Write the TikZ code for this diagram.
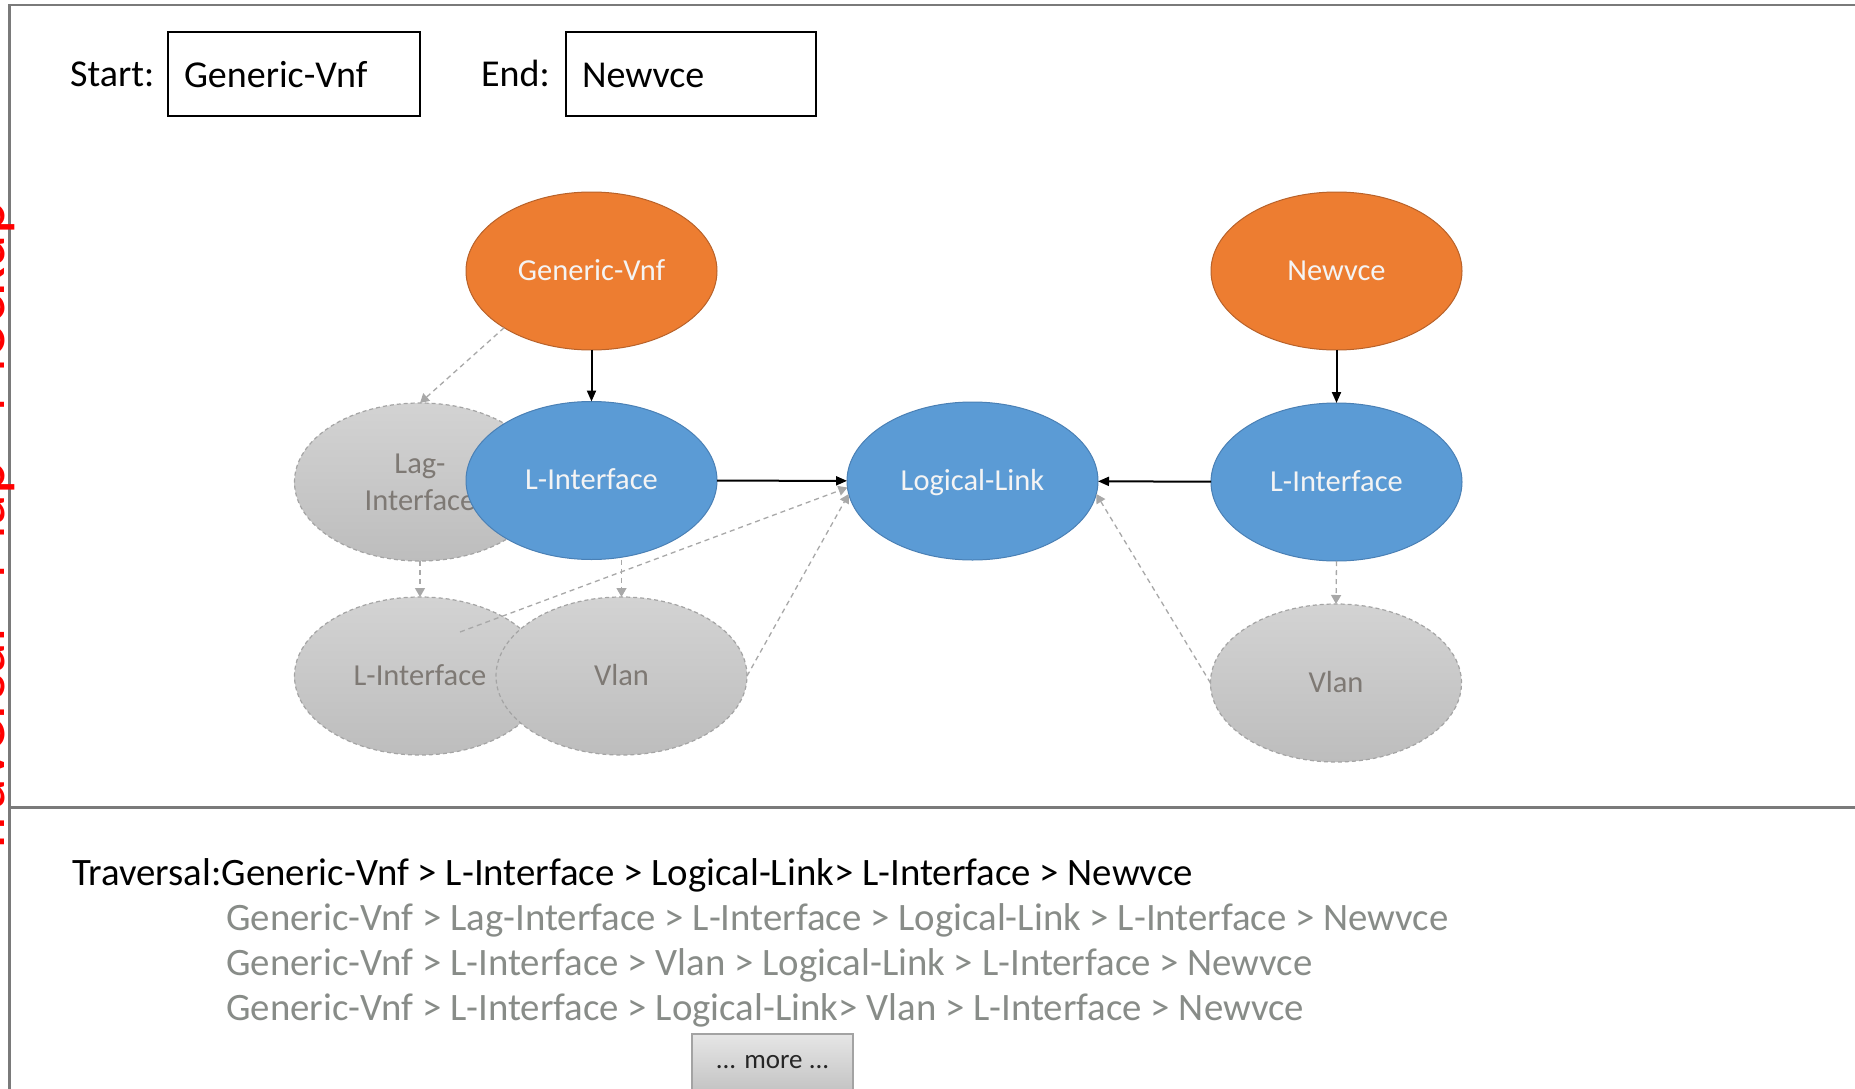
\documentclass[tikz,border=0pt]{standalone}
\usepackage{fontspec}
\setmainfont{Carlito}
\usetikzlibrary{shapes.geometric,arrows.meta,calc}

\definecolor{framegray}{HTML}{7A7A7A}
\definecolor{orangefill}{HTML}{ED7D31}
\definecolor{orangeedge}{HTML}{B8622A}
\definecolor{bluefill}{HTML}{5B9BD5}
\definecolor{blueedge}{HTML}{4A80B5}
\definecolor{graytop}{HTML}{D3D3D3}
\definecolor{graybot}{HTML}{BDBDBD}
\definecolor{grayedge}{HTML}{A4A4A4}
\definecolor{graytext}{HTML}{7E7974}
\definecolor{pathgray}{HTML}{888C88}
\definecolor{linkgray}{HTML}{A8A8A8}
\definecolor{nodewhite}{HTML}{F4F4F4}
\definecolor{btntop}{HTML}{E6E6E6}
\definecolor{btnbot}{HTML}{C4C4C4}
\definecolor{btnedge}{HTML}{A3A3A3}

\newcommand{\setpx}[2]{\fontsize{#1pt}{#2pt}\selectfont}

\begin{document}
\begin{tikzpicture}[x=1pt,y=-1pt,
  ellbase/.style={ellipse, minimum width=251pt, minimum height=158pt,
    inner sep=0pt, outer sep=0pt, align=center, font=\setpx{30.5}{37}},
  oneline/.style={text height=21pt, text depth=3pt},
  orangenode/.style={ellbase, oneline, fill=orangefill, draw=orangeedge,
    line width=1pt, text=nodewhite},
  bluenode/.style={ellbase, oneline, fill=bluefill, draw=blueedge,
    line width=1pt, text=nodewhite},
  graynode/.style={ellbase, top color=graytop, bottom color=graybot,
    draw=grayedge, line width=1.2pt, dash pattern=on 4pt off 3pt,
    text=graytext},
  solidarrow/.style={draw=black, line width=2pt,
    -{Triangle[length=11pt,width=9pt]}},
  dasharrow/.style={draw=linkgray, line width=1.3pt,
    dash pattern=on 5pt off 4pt,
    -{Triangle[length=9pt,width=10pt,fill=linkgray]}},
  framerule/.style={draw=framegray, line width=2.5pt},
  caption/.style={font=\setpx{38}{44}, inner sep=0pt, text=black},
  fieldbox/.style={draw=black, line width=1.5pt, minimum height=84pt,
    inner xsep=16pt, inner ysep=0pt, align=left, text height=27pt,
    text depth=0pt, font=\setpx{38}{44}},
  trav/.style={font=\setpx{38.8}{44}, inner sep=0pt, anchor=base west},
  morebutton/.style={minimum width=161pt, minimum height=56pt,
    top color=btntop, bottom color=btnbot, draw=btnedge, line width=1.2pt,
    font=\setpx{27}{30}, text=black!85}
]
\clip (0,0) rectangle (1855,1089);
\useasboundingbox (0,0) rectangle (1855,1089);
\fill[white] (0,0) rectangle (1855,1089);

% panel frame and divider
\draw[framerule] (9.5,1089) -- (9.5,5) -- (1855,5);
\draw[framerule] (9.5,807.5) -- (1855,807.5);

% vertical page title in the margin
\node[rotate=90, anchor=base west, inner sep=0pt, text=red,
  font=\setpx{64}{70}] (maptitle) at (5,858) {Traversal - Map - Mockup};

% start / end fields
\node[caption, anchor=base west] (startlbl) at (70,87) {Start:};
\node[fieldbox, minimum width=252pt, text width=220pt] (startbox) at (294,74) {Generic-Vnf};
\node[caption, anchor=base west] (endlbl) at (481,87) {End:};
\node[fieldbox, minimum width=250pt, text width=218pt] (endbox) at (691,74) {Newvce};

% graph nodes
\node[graynode] (lag) at (420,482) {Lag-\\Interface};
\node[orangenode] (gv) at (591.5,271) {Generic-Vnf};
\node[bluenode] (li1) at (591.5,480.5) {L-Interface};
\node[graynode, oneline] (lif) at (420,676) {L-Interface};
\node[graynode, oneline] (vl1) at (621.5,676) {Vlan};
\node[bluenode] (ll) at (972.5,481) {Logical-Link};
\node[orangenode] (nv) at (1336.5,271) {Newvce};
\node[bluenode] (li2) at (1336.5,482) {L-Interface};
\node[graynode, oneline] (vl2) at (1336,683) {Vlan};

% alternative (dashed) links
\coordinate (lifstart) at (460,632);
\draw[dasharrow] (gv.213) -- (lag.north);
\draw[dasharrow] (lag.south) -- (lif.north);
\draw[dasharrow] (vl1.north |- li1.south) -- (vl1.north);
\draw[dasharrow] (lifstart) -- (ll.183);
\draw[dasharrow] (vl1.east) -- (ll.186);
\draw[dasharrow] (vl2.west) -- (ll.354);
\draw[dasharrow] (li2.south) -- (vl2.north);

% main traversal
\draw[solidarrow] (gv) -- (li1);
\draw[solidarrow] (li1) -- (ll);
\draw[solidarrow] (nv) -- (li2);
\draw[solidarrow] (li2) -- (ll);

% traversal listing
\node[trav] (path0) at (72,885) {Traversal:Generic-Vnf > L-Interface > Logical-Link> L-Interface > Newvce};
\node[trav, text=pathgray] (path1) at (226,930) {Generic-Vnf > Lag-Interface > L-Interface > Logical-Link > L-Interface > Newvce};
\node[trav, text=pathgray] (path2) at (226,975) {Generic-Vnf > L-Interface > Vlan > Logical-Link > L-Interface > Newvce};
\node[trav, text=pathgray] (path3) at (226,1020) {Generic-Vnf > L-Interface > Logical-Link> Vlan > L-Interface > Newvce};

\node[morebutton] (more) at (772.5,1062) {... more ...};
\end{tikzpicture}
\end{document}
